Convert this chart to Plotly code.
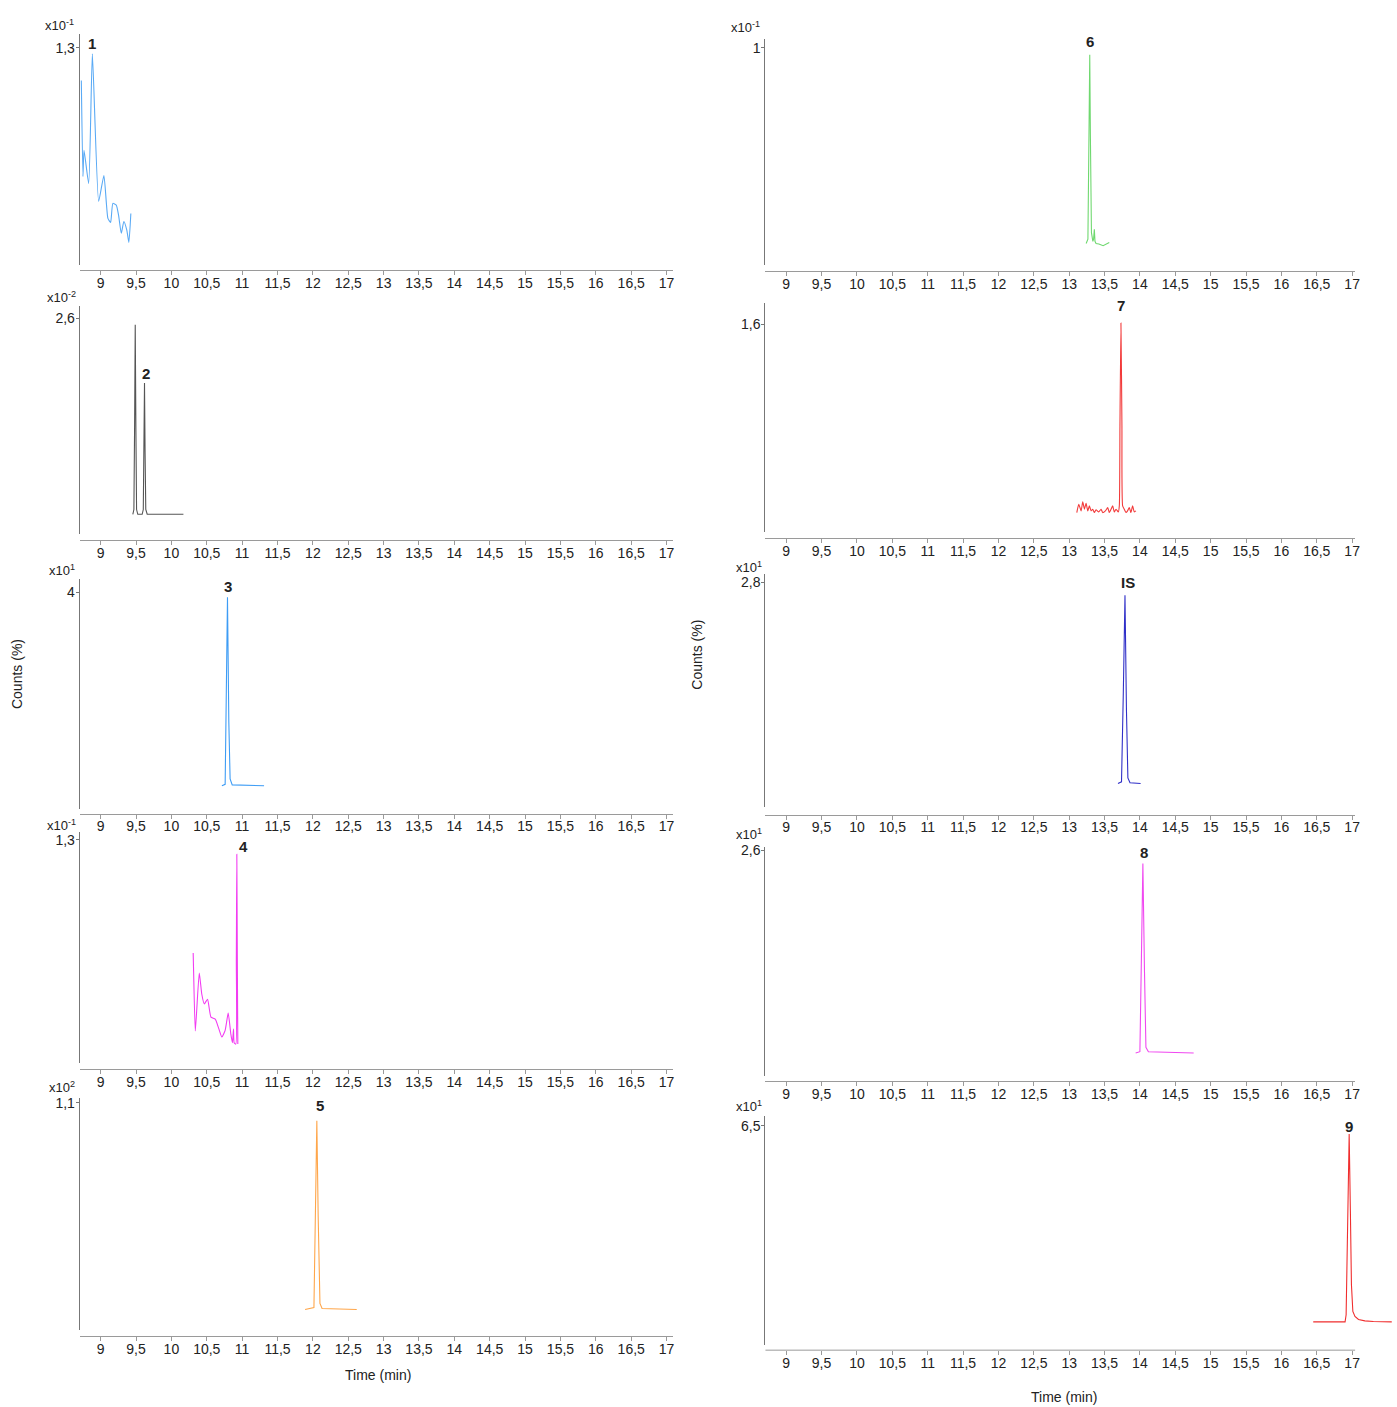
import plotly.graph_objects as go

W, H = 1397, 1407

# ---------------- data ----------------
x_tickvals = [9, 9.5, 10, 10.5, 11, 11.5, 12, 12.5, 13, 13.5, 14, 14.5, 15, 15.5, 16, 16.5, 17]
x_ticktext = ["9", "9,5", "10", "10,5", "11", "11,5", "12", "12,5", "13", "13,5",
              "14", "14,5", "15", "15,5", "16", "16,5", "17"]

p1_t = [8.727, 8.750, 8.765, 8.831, 8.883, 8.972, 9.046, 9.103, 9.141, 9.173, 9.221,
        9.254, 9.292, 9.328, 9.370, 9.399, 9.427]
p1_y = [1.105, 0.531, 0.688, 0.489, 1.264, 0.382, 0.537, 0.280, 0.256, 0.370, 0.360,
        0.298, 0.191, 0.262, 0.210, 0.137, 0.310]

p2_t = [9.455, 9.470, 9.480, 9.489, 9.498, 9.508, 9.525, 9.587, 9.603, 9.612, 9.620,
        9.628, 9.638, 9.658, 10.17]
p2_y = [0.243, 0.30, 1.30, 2.52, 1.30, 0.30, 0.243, 0.243, 0.30, 1.00, 1.82,
        1.00, 0.30, 0.243, 0.243]

p3_t = [10.714, 10.760, 10.775, 10.793, 10.812, 10.830, 10.860, 11.31]
p3_y = [0.424, 0.45, 2.0, 3.91, 1.6, 0.55, 0.44, 0.424]

p4_t = [10.308, 10.312, 10.338, 10.394, 10.430, 10.465, 10.511, 10.559, 10.620, 10.670,
        10.714, 10.760, 10.803, 10.841, 10.863, 10.878, 10.887, 10.911, 10.918, 10.925,
        10.932, 10.939]
p4_y = [0.640, 0.572, 0.186, 0.524, 0.400, 0.344, 0.371, 0.267, 0.255, 0.200,
        0.151, 0.190, 0.290, 0.166, 0.118, 0.197, 0.118, 0.110, 0.600, 1.215,
        0.600, 0.110]

p5_t = [11.89, 12.015, 12.035, 12.056, 12.075, 12.10, 12.13, 12.62]
p5_y = [0.10, 0.11, 0.55, 1.013, 0.55, 0.13, 0.105, 0.10]

p6_t = [13.24, 13.265, 13.280, 13.291, 13.300, 13.315, 13.335, 13.345, 13.356, 13.365,
        13.38, 13.42, 13.48, 13.53, 13.567]
p6_y = [0.10, 0.12, 0.60, 0.968, 0.60, 0.15, 0.11, 0.12, 0.165, 0.11,
        0.10, 0.098, 0.09, 0.10, 0.105]

p7_t = [13.108, 13.136, 13.169, 13.192, 13.216, 13.239, 13.263, 13.286, 13.310, 13.333,
        13.357, 13.380, 13.418, 13.451, 13.474, 13.512, 13.545, 13.568, 13.592, 13.615,
        13.638, 13.662, 13.695, 13.709, 13.718, 13.732, 13.746, 13.756, 13.779, 13.803,
        13.826, 13.850, 13.873, 13.897, 13.920, 13.944]
p7_y = [0.153, 0.217, 0.166, 0.235, 0.179, 0.224, 0.166, 0.204, 0.166, 0.179,
        0.153, 0.174, 0.158, 0.179, 0.153, 0.166, 0.191, 0.153, 0.179, 0.204,
        0.158, 0.179, 0.158, 0.204, 0.817, 1.608, 0.817, 0.204, 0.179, 0.153,
        0.166, 0.191, 0.153, 0.204, 0.158, 0.166]

is_t = [13.69, 13.74, 13.765, 13.789, 13.81, 13.83, 13.86, 14.01]
is_y = [0.29, 0.31, 1.40, 2.638, 1.20, 0.36, 0.30, 0.29]

p8_t = [13.94, 14.00, 14.02, 14.042, 14.065, 14.085, 14.12, 14.76]
p8_y = [0.265, 0.28, 1.30, 2.45, 1.20, 0.33, 0.28, 0.265]

p9_t = [16.45, 16.90, 16.915, 16.935, 16.958, 16.975, 16.99, 17.01, 17.04, 17.09,
        17.18, 17.30, 17.56]
p9_y = [0.69, 0.69, 0.90, 3.60, 6.255, 4.00, 1.80, 1.00, 0.85, 0.76,
        0.72, 0.70, 0.69]

y_tickvals = [1.3, 2.6, 4, 1.3, 1.1, 1, 1.6, 2.8, 2.6, 6.5]
y_ticktext = ["1,3", "2,6", "4", "1,3", "1,1", "1", "1,6", "2,8", "2,6", "6,5"]
multipliers = ["x10<sup>-1</sup>", "x10<sup>-2</sup>", "x10<sup>1</sup>", "x10<sup>-1</sup>",
               "x10<sup>2</sup>", "x10<sup>-1</sup>", "", "x10<sup>1</sup>",
               "x10<sup>1</sup>", "x10<sup>1</sup>"]
peak_labels = ["1", "2", "3", "4", "5", "6", "7", "IS", "8", "9"]
# labelled peak (retention time, height) for each panel
label_t = [8.883, 9.620, 10.793, 10.925, 12.056, 13.291, 13.732, 13.789, 14.042, 16.958]
label_y = [1.264, 1.82, 3.91, 1.215, 1.013, 0.968, 1.608, 2.638, 2.45, 6.255]
series_t = [p1_t, p2_t, p3_t, p4_t, p5_t, p6_t, p7_t, is_t, p8_t, p9_t]
series_y = [p1_y, p2_y, p3_y, p4_y, p5_y, p6_y, p7_y, is_y, p8_y, p9_y]

# ---------------- styles / layout geometry (pixels) ----------------
colors = ["#5aaaf5", "#555555", "#3d9cf5", "#f23cf2", "#ffa64a",
          "#6fd86f", "#f23a3a", "#3030c8", "#f048f0", "#f02e2e"]
shapes_line = ["spline", "linear", "linear", "spline", "linear",
               "linear", "spline", "linear", "linear", "linear"]
# (y line top, y line bottom, x axis line, tick px)
geom = [(30, 262, 267, 44), (303, 532, 538, 315), (577, 807, 812, 590),
        (830, 1062, 1068, 838), (1097, 1330, 1336, 1102),
        (35, 262, 268, 44), (300, 530, 536, 321), (572, 805, 813, 580),
        (845, 1075, 1080, 849), (1115, 1345, 1350, 1125)]
mult_pos = [(60, 21), (62, 294), (62, 568), (62, 823), (62, 1086),
            (748, 23), (0, 0), (752, 565), (752, 832), (752, 1105)]
label_shift = [(0, 10), (1, 10), (1, 11), (7, 8), (3, 15),
               (0, 13), (0, 18), (3, 13), (1, 11), (0, 8)]

cols = [(80, 675, 101), (768, 1360, 789)]  # left px, right px, px of t=9
PXMIN = 71.0

FONT = "Liberation Sans, Arial, sans-serif"
TXT = "#222"
fig = go.Figure()
layout = dict(width=W, height=H, margin=dict(l=0, r=0, t=0, b=0, pad=0),
              paper_bgcolor="white", plot_bgcolor="white", showlegend=False,
              font=dict(family=FONT, size=14, color=TXT))
annotations = []
shapes = []

for i in range(10):
    c = 0 if i < 5 else 1
    lpx, rpx, px9 = cols[c]
    top, bot, xline, tickpx = geom[i]
    xr = [9 + (lpx - px9) / PXMIN, 9 + (rpx - px9) / PXMIN]
    ytop = y_tickvals[i] * (bot - top) / (bot - tickpx)
    k = i + 1
    xa = "xaxis" if k == 1 else f"xaxis{k}"
    ya = "yaxis" if k == 1 else f"yaxis{k}"
    xref = "x" if k == 1 else f"x{k}"
    yref = "y" if k == 1 else f"y{k}"
    last = (i == 9)
    if last:
        # axis domain runs to the page edge so the trace is not clipped;
        # the visible axis line stops at the reference position
        dom_r = 1.0
        xr_use = [xr[0], xr[0] + (W - lpx) / PXMIN]
    else:
        dom_r = rpx / W
        xr_use = xr
    layout[xa] = dict(domain=[lpx / W, dom_r], range=xr_use, anchor="free",
                      position=1 - xline / H, showline=not last, linecolor="#9a9a9a",
                      linewidth=1, ticks="outside", ticklen=4, tickcolor="#9a9a9a",
                      tickvals=x_tickvals, ticktext=x_ticktext, showgrid=False,
                      zeroline=False, tickfont=dict(size=14, color=TXT),
                      ticklabelstandoff=-4, fixedrange=True)
    if last:
        shapes.append(dict(type="line", xref=xref, yref="paper",
                           x0=xr[0], x1=xr[1], y0=1 - xline / H, y1=1 - xline / H,
                           line=dict(color="#9a9a9a", width=1)))
    layout[ya] = dict(domain=[1 - bot / H, 1 - top / H], range=[0, ytop],
                      anchor=xref, showline=True,
                      linecolor="#777", linewidth=1, ticks="outside", ticklen=3,
                      tickcolor="#777", tickvals=[y_tickvals[i]],
                      ticktext=[y_ticktext[i]], showgrid=False, zeroline=False,
                      tickfont=dict(size=14, color=TXT), ticklabelstandoff=-2,
                      fixedrange=True)
    fig.add_trace(go.Scatter(x=series_t[i], y=series_y[i], mode="lines",
                             line=dict(color=colors[i], width=1.1, shape=shapes_line[i],
                                       smoothing=0.5),
                             xaxis=xref, yaxis=yref, hoverinfo="skip"))
    # peak label
    dx, dy = label_shift[i]
    annotations.append(dict(x=label_t[i], y=label_y[i], xref=xref, yref=yref,
                            text=f"<b>{peak_labels[i]}</b>",
                            showarrow=False, xanchor="center", yanchor="middle",
                            xshift=dx, yshift=dy, font=dict(size=15, color=TXT)))
    if multipliers[i]:
        mx, my = mult_pos[i]
        annotations.append(dict(x=mx / W, y=1 - my / H, xref="paper", yref="paper",
                                text=multipliers[i], showarrow=False, xanchor="center",
                                yanchor="middle", font=dict(size=13, color=TXT)))

# axis titles
for (tx, ty, txt, ang) in [(17, 672, "Counts (%)", -90), (700, 652, "Counts (%)", -90),
                           (379, 1375, "Time (min)", 0), (1068, 1397, "Time (min)", 0)]:
    annotations.append(dict(x=tx / W, y=1 - ty / H, xref="paper", yref="paper",
                            text=txt, textangle=ang, showarrow=False,
                            xanchor="center", yanchor="middle",
                            font=dict(size=14, color=TXT)))

layout["annotations"] = annotations
layout["shapes"] = shapes
fig.update_layout(**layout)
fig.write_html("out.html", config={"displayModeBar": False},
               post_script="document.body.style.margin='0';document.body.style.overflow='hidden';")
